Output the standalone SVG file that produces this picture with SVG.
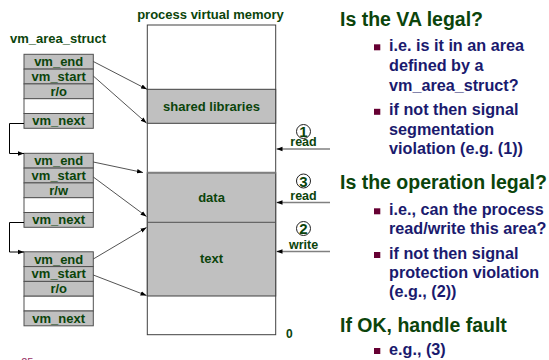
<svg xmlns="http://www.w3.org/2000/svg" width="549" height="360" viewBox="0 0 549 360">
<defs>
<marker id="ah" markerUnits="userSpaceOnUse" markerWidth="7" markerHeight="6" refX="6" refY="3" orient="auto">
<path d="M0,0.8 L6,3 L0,5.2 Z" fill="#000"/>
</marker>
<style>
.g{font-family:"Liberation Sans",Arial,sans-serif;font-weight:bold;fill:#0b440b}
.lbl{font-size:13px;text-anchor:middle}
.row{fill:#c0c0c0;stroke:#505050;stroke-width:1}
.wrow{fill:#fff;stroke:#505050;stroke-width:1}
.h{font-size:19.5px}
.b{font-family:"Liberation Sans",Arial,sans-serif;font-weight:bold;fill:#1a1a6e;font-size:16.2px}
.sq{fill:#660033}
.con{stroke:#404040;stroke-width:0.9;fill:none;marker-end:url(#ah)}
.lnk{stroke:#000;stroke-width:1;fill:none;marker-end:url(#ah)}
.acc{stroke:#808080;stroke-width:1.3;fill:none;marker-end:url(#ah)}
.rw{font-size:12.5px;text-anchor:middle}
.num{font-size:15px;text-anchor:middle}
.circ{fill:#fff;stroke:#202020;stroke-width:1}
</style>
</defs>

<text class="g" x="10" y="43" font-size="13">vm_area_struct</text>
<text class="g" x="210.5" y="19" font-size="13" text-anchor="middle">process virtual memory</text>

<g id="memory">
<rect x="147.3" y="25" width="128.4" height="309.7" fill="#fff" stroke="#404040" stroke-width="1"/>
<rect x="147.3" y="89.3" width="128.4" height="34" fill="#c0c0c0" stroke="#404040" stroke-width="1"/>
<rect x="147.3" y="172.7" width="128.4" height="123.3" fill="#c0c0c0" stroke="#404040" stroke-width="1"/>
<line x1="147.3" y1="172.7" x2="275.7" y2="172.7" stroke="#808080" stroke-width="2"/>
<line x1="147.3" y1="222.3" x2="275.7" y2="222.3" stroke="#505050" stroke-width="1"/>
<text class="g lbl" x="211.5" y="111">shared libraries</text>
<text class="g lbl" x="211.5" y="202">data</text>
<text class="g lbl" x="211.5" y="263">text</text>
<text class="g" x="286" y="338" font-size="12">0</text>
</g>

<g id="struct1" transform="translate(24,54.3)">
<rect class="row" x="0" y="0" width="69.3" height="14.8"/>
<rect class="row" x="0" y="14.8" width="69.3" height="14.8"/>
<rect class="row" x="0" y="29.6" width="69.3" height="14.8"/>
<rect class="wrow" x="0" y="44.4" width="69.3" height="14.8"/>
<rect class="row" x="0" y="59.2" width="69.3" height="14.8"/>
<text class="g lbl" x="34.7" y="11.9">vm_end</text>
<text class="g lbl" x="34.7" y="26.7">vm_start</text>
<text class="g lbl" x="34.7" y="41.5">r/o</text>
<text class="g lbl" x="34.7" y="71.1">vm_next</text>
</g>

<g id="struct2" transform="translate(24,153.3)">
<rect class="row" x="0" y="0" width="69.3" height="14.8"/>
<rect class="row" x="0" y="14.8" width="69.3" height="14.8"/>
<rect class="row" x="0" y="29.6" width="69.3" height="14.8"/>
<rect class="wrow" x="0" y="44.4" width="69.3" height="14.8"/>
<rect class="row" x="0" y="59.2" width="69.3" height="14.8"/>
<text class="g lbl" x="34.7" y="11.9">vm_end</text>
<text class="g lbl" x="34.7" y="26.7">vm_start</text>
<text class="g lbl" x="34.7" y="41.5">r/w</text>
<text class="g lbl" x="34.7" y="71.1">vm_next</text>
</g>

<g id="struct3" transform="translate(24,251.8)">
<rect class="row" x="0" y="0" width="69.3" height="14.8"/>
<rect class="row" x="0" y="14.8" width="69.3" height="14.8"/>
<rect class="row" x="0" y="29.6" width="69.3" height="14.8"/>
<rect class="wrow" x="0" y="44.4" width="69.3" height="14.8"/>
<rect class="row" x="0" y="59.2" width="69.3" height="14.8"/>
<text class="g lbl" x="34.7" y="11.9">vm_end</text>
<text class="g lbl" x="34.7" y="26.7">vm_start</text>
<text class="g lbl" x="34.7" y="41.5">r/o</text>
<text class="g lbl" x="34.7" y="71.1">vm_next</text>
</g>

<g id="connectors">
<line class="con" x1="93.3" y1="61.5" x2="147" y2="89.3"/>
<line class="con" x1="93.3" y1="76" x2="146.5" y2="123"/>
<line class="con" x1="93.3" y1="162" x2="143" y2="172.5"/>
<line class="con" x1="93.3" y1="177" x2="146.5" y2="216.5"/>
<line class="con" x1="93.3" y1="259" x2="146.5" y2="227.5"/>
<line class="con" x1="93.3" y1="275" x2="146.5" y2="295.5"/>
<path class="lnk" d="M24,123.5 H9.5 V153.5 H24"/>
<path class="lnk" d="M24,222.5 H9.5 V252 H24"/>
<line class="acc" x1="330" y1="149" x2="276.5" y2="149"/>
<line class="acc" x1="330" y1="202.5" x2="276.5" y2="202.5"/>
<line class="acc" x1="330" y1="251.5" x2="276.5" y2="251.5"/>
</g>

<g id="access1">
<circle class="circ" cx="303.5" cy="131.5" r="7"/>
<text class="g num" x="303.5" y="137">1</text>
<text class="g rw" x="303.5" y="146">read</text>
</g>
<g id="access3">
<circle class="circ" cx="303.5" cy="181" r="7"/>
<text class="g num" x="303.5" y="186.5">3</text>
<text class="g rw" x="303.5" y="199.5">read</text>
</g>
<g id="access2">
<circle class="circ" cx="303.5" cy="228.5" r="7"/>
<text class="g num" x="303.5" y="234">2</text>
<text class="g rw" x="303.5" y="249">write</text>
</g>

<g id="bullets">
<text class="g h" x="340" y="26">Is the VA legal?</text>
<rect class="sq" x="374" y="44.3" width="6.3" height="6"/>
<text class="b" x="389" y="51">i.e. is it in an area</text>
<text class="b" x="389" y="71">defined by a</text>
<text class="b" x="389" y="91">vm_area_struct?</text>
<rect class="sq" x="374" y="108.8" width="6.3" height="6"/>
<text class="b" x="389" y="115">if not then signal</text>
<text class="b" x="389" y="134.5">segmentation</text>
<text class="b" x="389" y="154">violation (e.g. (1))</text>

<text class="g h" x="340" y="188.5">Is the operation legal?</text>
<rect class="sq" x="374" y="208.3" width="6.3" height="6"/>
<text class="b" x="389" y="214.5">i.e., can the process</text>
<text class="b" x="389" y="233.5">read/write this area?</text>
<rect class="sq" x="374" y="252" width="6.3" height="6"/>
<text class="b" x="389" y="258.5">if not then signal</text>
<text class="b" x="389" y="277.5">protection violation</text>
<text class="b" x="389" y="296.5">(e.g., (2))</text>

<text class="g h" x="340" y="331.5">If OK, handle fault</text>
<rect class="sq" x="374" y="348" width="6.3" height="6"/>
<text class="b" x="389" y="354.5">e.g., (3)</text>
</g>

<text x="12" y="366" font-family="Liberation Sans,Arial,sans-serif" font-size="11" fill="#993366">– 25 –</text>
</svg>
